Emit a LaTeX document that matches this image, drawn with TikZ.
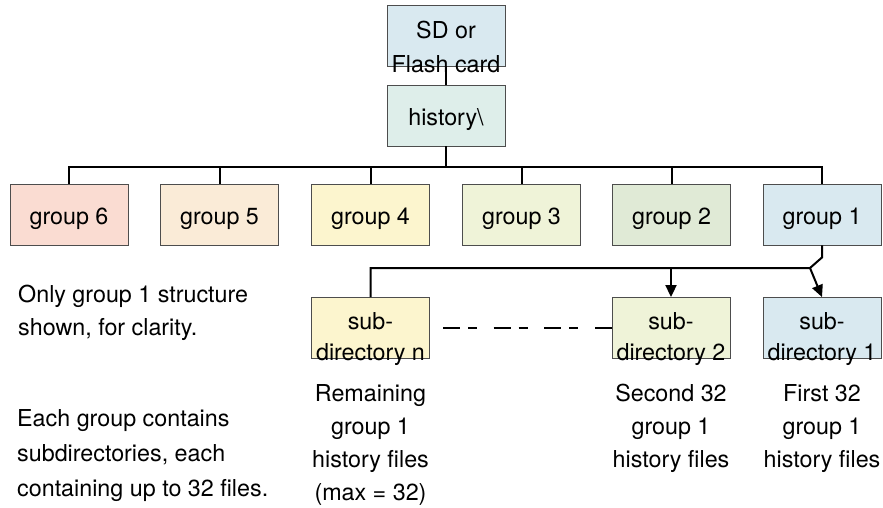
\documentclass[tikz,border=0pt]{standalone}
\usepackage{fontspec}
\setmainfont{TeX Gyre Heros}
\usetikzlibrary{arrows.meta}
\definecolor{boxline}{RGB}{77,77,77}
\definecolor{cblue}{RGB}{217,233,240}
\definecolor{cteal}{RGB}{222,238,234}
\definecolor{cpink}{RGB}{250,220,210}
\definecolor{cpeach}{RGB}{250,235,215}
\definecolor{cyellow}{RGB}{252,245,206}
\definecolor{cylgreen}{RGB}{239,243,216}
\definecolor{cgreen}{RGB}{224,234,214}
\newcommand\twolines[2]{\begin{tabular}[t]{@{}c@{}}#1\\#2\end{tabular}}
\begin{document}
\begin{tikzpicture}[x=1pt,y=-1pt,
  box/.style={draw=boxline, line width=0.9pt, minimum width=118pt, minimum height=61pt,
    inner sep=0pt, font=\fontsize{23.3}{34}\selectfont, text height=20pt, text depth=0pt},
  box2/.style={box, text height=7pt},
  box3/.style={box, text height=2pt, font=\fontsize{23.3}{31}\selectfont},
  conn/.style={line width=2pt, black},
  arr/.style={conn, -{Triangle[length=12pt,width=11pt]}},
  note/.style={inner sep=0pt, anchor=base}
]
\useasboundingbox (0,0) rectangle (883,508);

% top boxes
\node[box2, fill=cblue] (sd) at (446,35.5) {\twolines{SD or}{Flash card}};
\node[box, fill=cteal] (hist) at (446,115.5) {history\textbackslash};

% groups
\node[box, fill=cpink]    (g6) at (69,214.5)    {group 6};
\node[box, fill=cpeach]   (g5) at (219.5,214.5) {group 5};
\node[box, fill=cyellow]  (g4) at (370.5,214.5) {group 4};
\node[box, fill=cylgreen] (g3) at (521.5,214.5) {group 3};
\node[box, fill=cgreen]   (g2) at (671.5,214.5) {group 2};
\node[box, fill=cblue]    (g1) at (822,214.5)   {group 1};

% subdirectories
\node[box3, fill=cyellow]  (subn) at (370.5,328) {\twolines{sub-}{directory n}};
\node[box3, fill=cylgreen] (sub2) at (671,328)   {\twolines{sub-}{directory 2}};
\node[box3, fill=cblue]    (sub1) at (822,328)   {\twolines{sub-}{directory 1}};

% connectors
\coordinate (busy) at (446,167);
\draw[conn] (sd) -- (hist);
\draw[conn] (hist.south) -- (hist.south |- busy);
\draw[conn] (g6.north) -- (g6.north |- busy) -- (g1.north |- busy) -- (g1.north);
\foreach \g in {g5,g4,g3,g2} \draw[conn] (\g.north) -- (\g.north |- busy);

\coordinate (j) at (810,268);
\draw[conn] (g1.south) -- ++(0,12) -- (j) -- (subn.north |- j) -- (subn.north);
\draw[arr] (j) -- (sub1.north);
\draw[arr] (sub2.north |- j) -- (sub2.north);

\coordinate (dstart) at (443,328);
\draw[line width=2pt, dash pattern=on 17pt off 8pt on 9pt off 16.7pt] (dstart) -- (sub2.west);

% notes
\node[note, anchor=base west, font=\fontsize{23.3}{33}\selectfont] (n1) at (18,302)
  {\begin{tabular}[t]{@{}l@{}}Only group 1 structure\\shown, for clarity.\end{tabular}};
\node[note, anchor=base west, font=\fontsize{23.3}{35}\selectfont] (n2) at (17,426)
  {\begin{tabular}[t]{@{}l@{}}Each group contains\\subdirectories, each\\containing up to 32 files.\end{tabular}};

\node[note, font=\fontsize{23.3}{33}\selectfont] (ln) at (370.5,401)
  {\begin{tabular}[t]{@{}c@{}}Remaining\\group 1\\history files\\(max = 32)\end{tabular}};
\node[note, font=\fontsize{23.3}{33}\selectfont] (l2) at (671,401)
  {\begin{tabular}[t]{@{}c@{}}Second 32\\group 1\\history files\end{tabular}};
\node[note, font=\fontsize{23.3}{33}\selectfont] (l1) at (822,401)
  {\begin{tabular}[t]{@{}c@{}}First 32\\group 1\\history files\end{tabular}};
\end{tikzpicture}
\end{document}
